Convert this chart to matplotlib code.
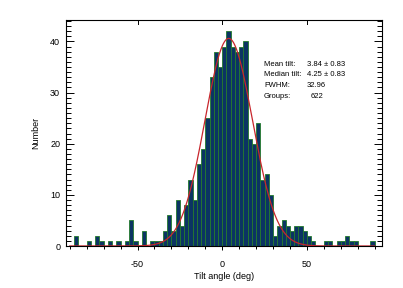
import numpy as np
import matplotlib
matplotlib.use("Agg")
import matplotlib.pyplot as plt
from matplotlib.ticker import MultipleLocator

plt.rcParams['font.family'] = ['Liberation Sans', 'DejaVu Sans']
plt.rcParams['axes.unicode_minus'] = False

# histogram of tilt angles, 2.5 deg bins from -90 to 90
bin_width = 2.5
bin_left = np.arange(-90, 90, bin_width)
counts = [0, 2, 0, 0, 1, 0, 2, 1, 0, 1, 0, 1, 0, 1, 5, 1, 0, 3,
          0, 1, 1, 1, 3, 6, 3, 9, 4, 8, 13, 9, 16, 19, 25, 33, 38, 35,
          39, 42, 39, 38, 39, 40, 21, 20, 24, 13, 14, 10, 2, 4, 5, 4, 3, 4,
          4, 3, 2, 1, 0, 0, 1, 1, 0, 1, 1, 2, 1, 1, 0, 0, 0, 1]

# gaussian fit
fit_mean = 3.84
fit_fwhm = 32.96
fit_amp = 40.6

stat_labels = ['Mean tilt:', 'Median tilt:', 'FWHM:', 'Groups:']
stat_values = ['3.84 \u00b1 0.83', '4.25 \u00b1 0.83', '32.96', '622']

fig = plt.figure(figsize=(4.03, 2.88), dpi=100)
ax = fig.add_axes([65.7 / 403, 42 / 288, 316.6 / 403, 226 / 288])

ax.bar(bin_left, counts, width=bin_width, align='edge',
       color='#0b3463', edgecolor='#237a2c', linewidth=0.6, zorder=2)

sigma = fit_fwhm / (2 * np.sqrt(2 * np.log(2)))
xx = np.linspace(-90, 90, 600)
ax.plot(xx, fit_amp * np.exp(-(xx - fit_mean) ** 2 / (2 * sigma ** 2)),
        color='#c8262c', linewidth=0.9, zorder=3)

ax.set_xlim(-92.4, 94.5)
ax.set_ylim(0, 44.2)

ax.xaxis.set_major_locator(MultipleLocator(50))
ax.xaxis.set_minor_locator(MultipleLocator(10))
ax.yaxis.set_major_locator(MultipleLocator(10))
ax.yaxis.set_minor_locator(MultipleLocator(1))

ax.tick_params(axis='x', which='both', direction='out', bottom=True, top=False,
               labelsize=6.5, pad=7, width=0.7, color='black')
ax.tick_params(axis='x', which='major', length=3)
ax.tick_params(axis='x', which='minor', length=2)
ax.tick_params(axis='y', which='both', direction='in', left=True, right=True,
               labelsize=6.5, pad=4, width=0.7)
ax.tick_params(axis='y', which='major', length=6)
ax.tick_params(axis='y', which='minor', length=3.5)

# top axis: major ticks only, pointing in
for xt in [-50, 0, 50]:
    ax.plot([xt, xt], [44.2, 44.2 - 0.8], color='black', linewidth=0.7,
            clip_on=False, zorder=4)

for sp in ax.spines.values():
    sp.set_linewidth(0.8)
    sp.set_zorder(5)

ax.set_xlabel('Tilt angle (deg)', fontsize=6.5, labelpad=2)
ax.set_ylabel('Number', fontsize=6.5, labelpad=7)

y0 = 64.3
for i, (lab, val) in enumerate(zip(stat_labels, stat_values)):
    ypix = y0 + i * 10.6
    fig.text(264 / 403, 1 - ypix / 288, lab, fontsize=5.5, va='center', ha='left')
    xv = 311 if i == 3 else 307
    fig.text(xv / 403, 1 - ypix / 288, val, fontsize=5.5, va='center', ha='left')

fig.savefig('out.png', dpi=100)
